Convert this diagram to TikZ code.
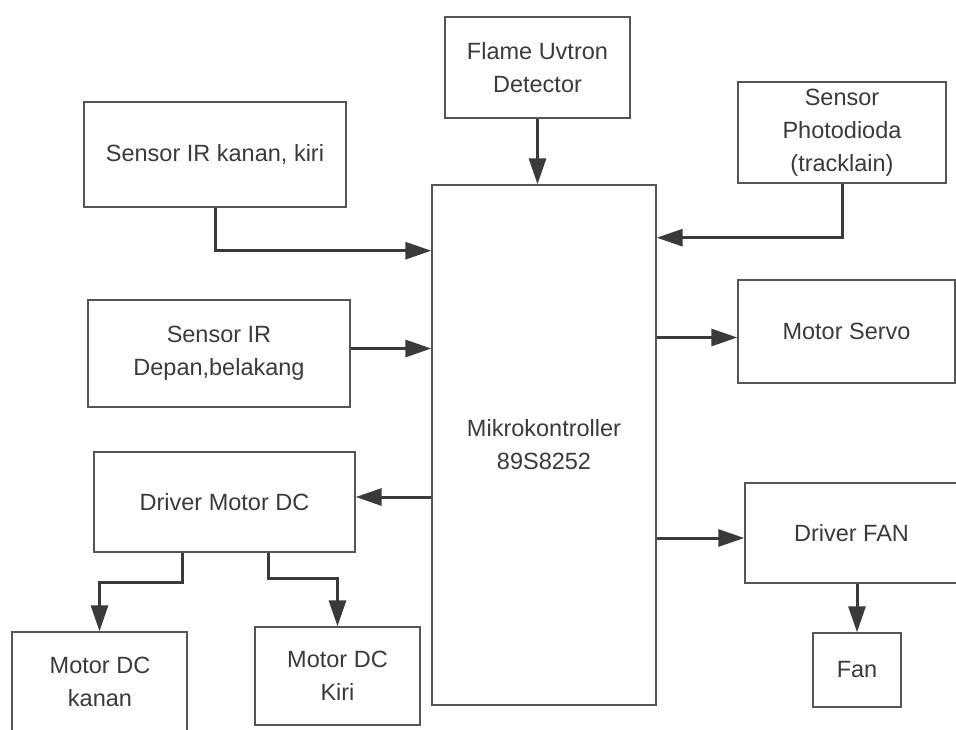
\documentclass[tikz,border=0pt]{standalone}
\usepackage{fontspec}
\setmainfont{Liberation Sans}
\usetikzlibrary{arrows.meta,calc}
\definecolor{ink}{HTML}{3A3A3A}
\definecolor{boxline}{HTML}{555555}
\tikzset{
  blk/.style={draw=boxline, line width=1.4pt, text=ink, align=center,
    inner sep=0pt, font=\fontsize{23.5}{33}\selectfont},
  arr/.style={draw=ink, line width=3pt,
    -{Triangle[length=26pt,width=17pt]}}
}
\begin{document}
\begin{tikzpicture}[x=1pt,y=-1pt]
\clip (0,0) rectangle (956,729);
\fill[white] (0,0) rectangle (956,729);
% boxes
\node[blk, minimum width=262pt, minimum height=105pt] (irk) at (215,154.5) {Sensor IR kanan, kiri};
\node[blk, minimum width=185pt, minimum height=101pt] (flame) at (537.5,67.5) {Flame Uvtron\\Detector};
\node[blk, minimum width=208pt, minimum height=101pt] (photo) at (842,132.5) {Sensor\\Photodioda\\(tracklain)};
\node[blk, minimum width=224pt, minimum height=520pt] (mikro) at (544,445) {Mikrokontroller\\89S8252};
\node[blk, minimum width=262pt, minimum height=107pt] (ird) at (219,353.5) {Sensor IR\\Depan,belakang};
\node[blk, minimum width=261pt, minimum height=100pt] (drv) at (224.5,502) {Driver Motor DC};
\node[blk, minimum width=175pt, minimum height=130pt] (mkanan) at (99.5,697) {};
\node[text=ink, align=center, font=\fontsize{23.5}{33}\selectfont] (mkanantxt) at (100,682) {Motor DC\\kanan};
\node[blk, minimum width=165pt, minimum height=98pt] (mkiri) at (337.5,676) {Motor DC\\Kiri};
\node[blk, minimum width=217pt, minimum height=103pt] (servo) at (846.5,331.5) {Motor Servo};
\node[blk, minimum width=213pt, minimum height=100pt] (dfan) at (851.5,533) {Driver FAN};
\node[blk, minimum width=88pt, minimum height=74pt] (fan) at (857,670) {Fan};
% connectors
\coordinate (irkturn) at ($(irk.south)+(0,43)$);
\draw[arr] (irk.south) -- (irkturn) -- (irkturn -| mikro.west);
\draw[arr] (flame.south) -- (flame.south |- mikro.north);
\coordinate (phturn) at ($(photo.south)+(0,54)$);
\draw[arr] (photo.south) -- (phturn) -- (phturn -| mikro.east);
\draw[arr] ([yshift=5pt]ird.east) -- ([yshift=5pt]ird.east -| mikro.west);
\draw[arr] ([yshift=-6pt]servo.west -| mikro.east) -- ([yshift=-6pt]servo.west);
\draw[arr] ([yshift=5pt]drv.east -| mikro.west) -- ([yshift=5pt]drv.east);
\draw[arr] ([yshift=-5pt]dfan.west -| mikro.east) -- ([yshift=-5pt]dfan.west);
\draw[arr] (fan.north |- dfan.south) -- (fan.north);
\draw[arr] ([xshift=-42.5pt]drv.south) -- ++(0,30) -| (mkanan.north);
\draw[arr] ([xshift=43.5pt]drv.south) -- ++(0,26) -| (mkiri.north);
\end{tikzpicture}
\end{document}
